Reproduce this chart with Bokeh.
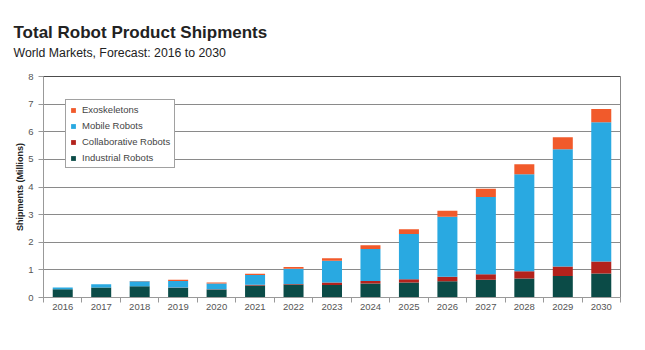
from bokeh.plotting import figure
from bokeh.layouts import column
from bokeh.models import (Range1d, FixedTicker, Legend, LegendItem, Span,
                          ColumnDataSource)
from bokeh.core.properties import value
from bokeh.embed import file_html
from bokeh.resources import INLINE

years = [2016, 2017, 2018, 2019, 2020, 2021, 2022, 2023, 2024, 2025, 2026, 2027, 2028, 2029, 2030]
industrial = [0.30, 0.36, 0.41, 0.35, 0.29, 0.43, 0.47, 0.45, 0.51, 0.54, 0.59, 0.64, 0.69, 0.78, 0.87]
collaborative = [0.00, 0.00, 0.00, 0.01, 0.01, 0.03, 0.02, 0.09, 0.09, 0.12, 0.16, 0.20, 0.26, 0.34, 0.43]
mobile = [0.06, 0.12, 0.18, 0.24, 0.21, 0.35, 0.55, 0.79, 1.16, 1.64, 2.17, 2.80, 3.51, 4.25, 5.04]
exoskeletons = [0.00, 0.00, 0.01, 0.04, 0.03, 0.05, 0.06, 0.09, 0.13, 0.17, 0.22, 0.30, 0.36, 0.43, 0.48]

series = ["industrial", "collaborative", "mobile", "exoskeletons"]
names = ["Industrial Robots", "Collaborative Robots", "Mobile Robots", "Exoskeletons"]
colors = ["#0B4B47", "#B3221C", "#29A9E1", "#F15A2B"]

title_text = "Total Robot Product Shipments"
subtitle_text = "World Markets, Forecast: 2016 to 2030"

FONT = "Liberation Sans"
W = 645
HEADER_H = 60

# ---- header with title and subtitle (pixel coordinates, y downward) ----
header = figure(width=W, height=HEADER_H, output_backend="svg", toolbar_location=None,
                x_range=Range1d(0, W), y_range=Range1d(HEADER_H, 0),
                min_border=0, min_border_left=0, min_border_right=0,
                min_border_top=0, min_border_bottom=0)
header.frame_align = False
header.axis.visible = False
header.grid.grid_line_color = None
header.outline_line_color = None
header.title = None
header.text(x=[13], y=[32], text=[title_text], text_font=value(FONT), text_font_size="17px",
            text_font_style="bold", text_color="#222222", text_baseline="middle",
            text_align="left")
header.text(x=[13], y=[52], text=[subtitle_text], text_font=value(FONT),
            text_font_size="12.3px", text_color="#222222", text_baseline="middle",
            text_align="left")

# ---- main chart ----
source = ColumnDataSource(dict(year=years, industrial=industrial, collaborative=collaborative,
                               mobile=mobile, exoskeletons=exoskeletons))

p = figure(width=W, height=350 - HEADER_H, output_backend="svg", toolbar_location=None,
           x_range=Range1d(years[0] - 0.5, years[-1] + 0.5), y_range=Range1d(0, 8),
           min_border_left=43, min_border_right=25, min_border_top=16, min_border_bottom=53)
p.frame_align = False
p.title = None

renderers = p.vbar_stack(series, x="year", width=0.52, source=source, color=colors,
                         line_color=None)

legend = Legend(items=[LegendItem(label=n, renderers=[r]) for n, r in zip(names, renderers)][::-1],
                location=(22, 129), label_text_font=FONT, label_text_font_size="9.5px",
                label_text_color="#444444", glyph_width=6, glyph_height=6, label_height=10,
                label_standoff=6, spacing=5, padding=4, margin=0,
                border_line_color="#444444", border_line_width=1, background_fill_alpha=1)
p.add_layout(legend, "center")

# axes
p.yaxis.ticker = FixedTicker(ticks=list(range(0, 9)))
p.yaxis.axis_label = "Shipments (Millions)"
p.yaxis.axis_label_text_font = FONT
p.yaxis.axis_label_text_font_size = "9px"
p.yaxis.axis_label_text_font_style = "bold"
p.yaxis.axis_label_text_color = "#222222"
p.yaxis.axis_label_standoff = 0
p.yaxis.major_label_text_font = FONT
p.yaxis.major_label_text_font_size = "9.5px"
p.yaxis.major_label_text_color = "#555555"
p.yaxis.axis_line_color = "#999999"
p.yaxis.major_tick_line_color = "#999999"
p.yaxis.major_tick_in = 0
p.yaxis.major_tick_out = 5
p.yaxis.minor_tick_line_color = None

p.xaxis.ticker = FixedTicker(ticks=years, minor_ticks=[y - 0.5 for y in years] + [years[-1] + 0.5])
p.xaxis.major_tick_line_color = None
p.xaxis.major_tick_in = 0
p.xaxis.major_tick_out = 0
p.xaxis.minor_tick_line_color = "#999999"
p.xaxis.minor_tick_in = 0
p.xaxis.minor_tick_out = 5
p.xaxis.axis_line_color = "#999999"
p.xaxis.major_label_text_font = FONT
p.xaxis.major_label_text_font_size = "9.5px"
p.xaxis.major_label_text_color = "#555555"
p.xaxis.major_label_standoff = 1

p.xgrid.grid_line_color = None
p.ygrid.grid_line_color = "#8a8a8a"
p.ygrid.grid_line_width = 1
p.outline_line_color = "#888888"
p.add_layout(Span(location=8, dimension="width", line_color="#111111", line_width=1))

p.background_fill_color = "white"
p.border_fill_color = "white"

layout = column(header, p, spacing=0)
open("out.html", "w").write(file_html(layout, INLINE))
